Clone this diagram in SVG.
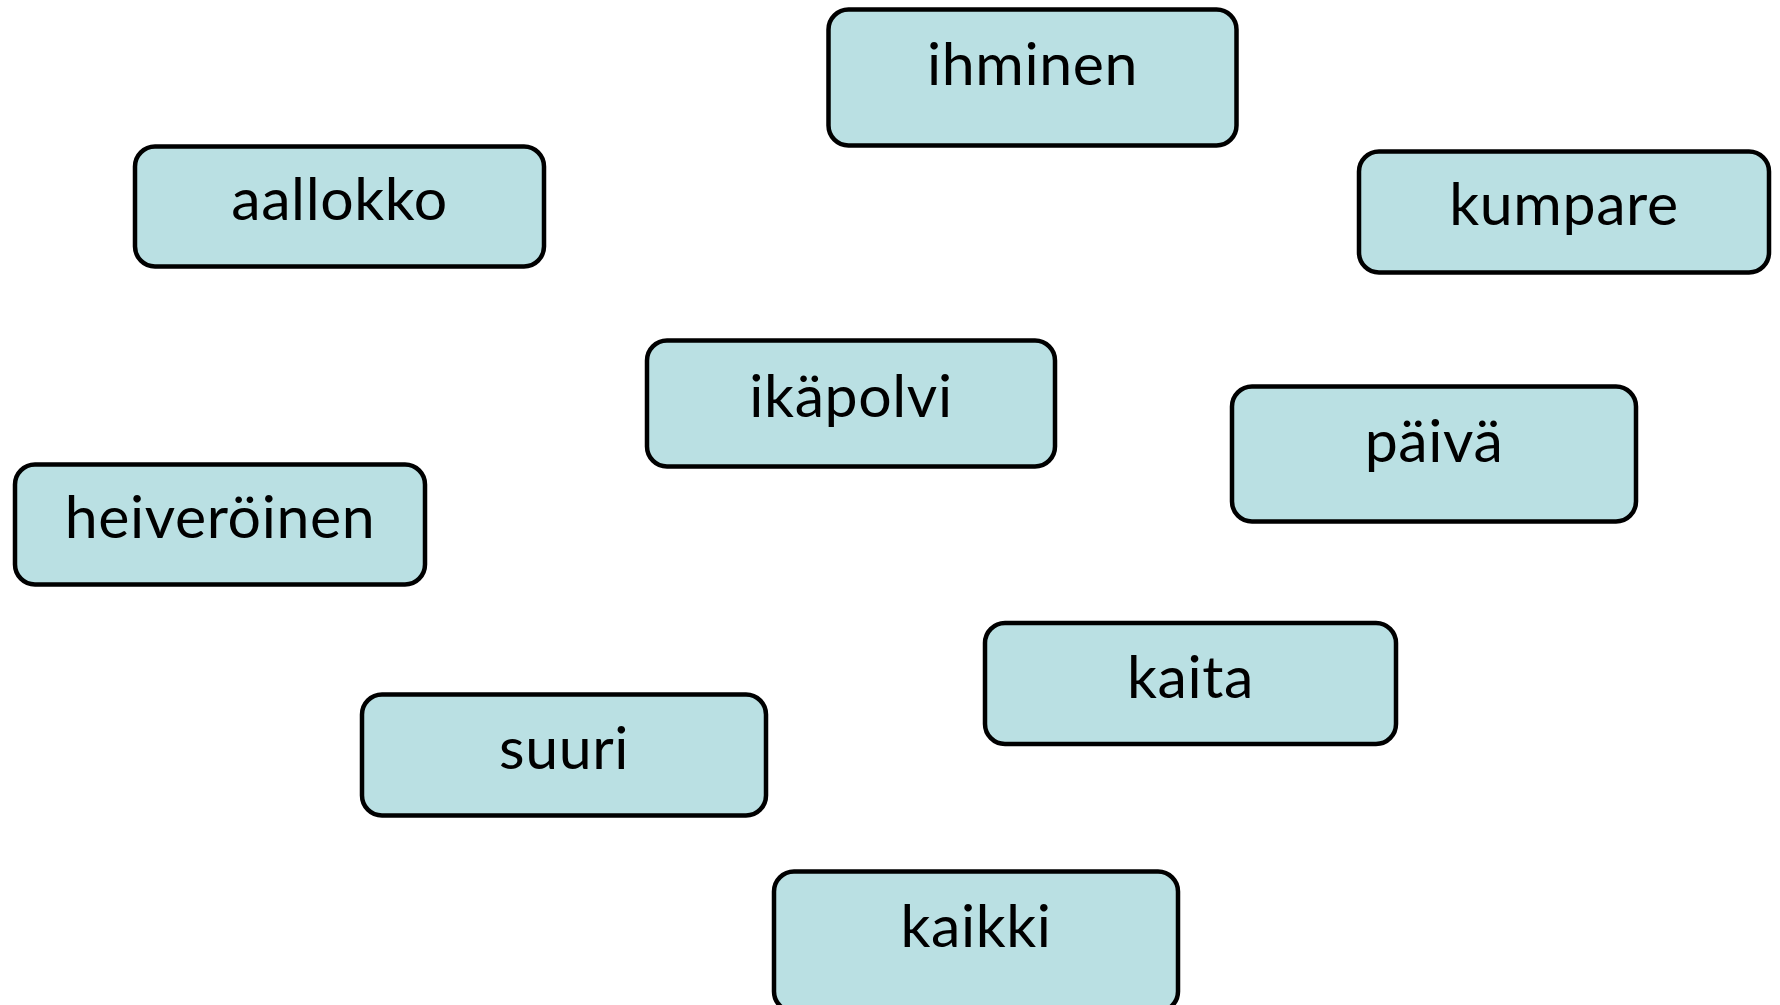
<svg xmlns="http://www.w3.org/2000/svg" width="1780" height="1005" viewBox="0 0 1780 1005">
<style>
.box{fill:#BAE0E3;stroke:#000;stroke-width:4.5}
.lbl{font-family:Lato,"Open Sans","Liberation Sans",sans-serif;font-size:59px;letter-spacing:0.6px;fill:#000;text-anchor:middle}
</style>
<rect width="1780" height="1005" fill="#fff"/>
<g id="connectors"></g>
<g id="ihminen"><rect class="box" x="828.5" y="9.5" width="408" height="136" rx="20"/><text class="lbl" x="1032.5" y="85">ihminen</text></g>
<g id="aallokko"><rect class="box" x="135" y="146.5" width="409" height="120" rx="20"/><text class="lbl" x="339.5" y="220">aallokko</text></g>
<g id="kumpare"><rect class="box" x="1359" y="151.5" width="410" height="121" rx="20"/><text class="lbl" x="1564" y="225">kumpare</text></g>
<g id="ikapolvi"><rect class="box" x="647" y="340.5" width="408" height="126" rx="20"/><text class="lbl" x="851" y="417">ikäpolvi</text></g>
<g id="paiva"><rect class="box" x="1232" y="386.5" width="404" height="135" rx="20"/><text class="lbl" x="1434" y="462">päivä</text></g>
<g id="heiveroinen"><rect class="box" x="15" y="464.5" width="410" height="120" rx="20"/><text class="lbl" x="220" y="538">heiveröinen</text></g>
<g id="kaita"><rect class="box" x="985" y="623" width="411" height="121" rx="20"/><text class="lbl" x="1190.5" y="698">kaita</text></g>
<g id="suuri"><rect class="box" x="362" y="694.5" width="404" height="121" rx="20"/><text class="lbl" x="564" y="769">suuri</text></g>
<g id="kaikki"><rect class="box" x="774" y="871.5" width="404" height="140" rx="20"/><text class="lbl" x="976" y="947">kaikki</text></g>
</svg>
